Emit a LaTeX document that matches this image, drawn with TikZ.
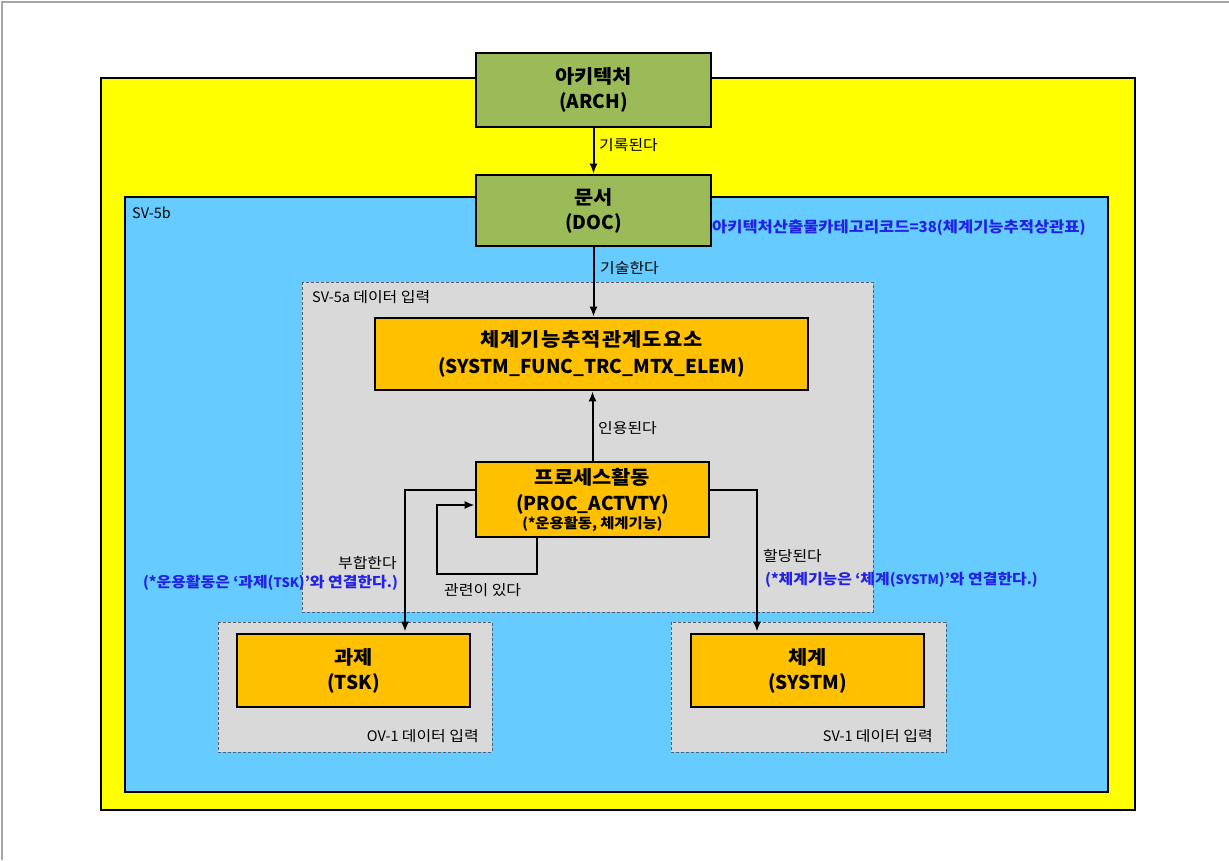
\documentclass[tikz,border=0pt]{standalone}
\usepackage{fontspec}
\setmainfont{Noto Sans CJK KR}
\newfontfamily\kr[FakeStretch=1.1]{Noto Sans CJK KR}
\usetikzlibrary{calc,arrows.meta}
\definecolor{ylw}{HTML}{FFFF00}
\definecolor{sky}{HTML}{66CCFF}
\definecolor{lgray}{HTML}{D9D9D9}
\definecolor{grn}{HTML}{9BBB59}
\definecolor{org}{HTML}{FFC000}
\definecolor{btxt}{HTML}{2222E6}
\definecolor{dashc}{HTML}{506070}
\tikzset{
  ent/.style={draw=black, line width=2.6pt, align=center, inner sep=0pt,
    font=\bfseries\fontsize{19}{25}\selectfont},
  grnbox/.style={ent, fill=grn},
  orgbox/.style={ent, fill=org},
  grp/.style={draw=dashc, fill=lgray, line width=0.9pt, dash pattern=on 3pt off 2pt},
  lbl/.style={inner sep=0pt, font=\fontsize{14.5}{16}\selectfont},
  blbl/.style={inner sep=0pt, text=btxt, font=\bfseries\fontsize{14.5}{16}\selectfont},
  arr/.style={draw=black, line width=2pt, -{Latex[length=10pt,width=8pt]}}
}
\begin{document}
\begin{tikzpicture}[x=1pt,y=-1pt]
\useasboundingbox (0,0) rectangle (1229,860);
\fill[white] (0,0) rectangle (1229,860);
\draw[gray!70, line width=1.2pt] (2,860) -- (2,2) -- (1229,2);
% containers
\draw[fill=ylw, line width=2.4pt] (101,78) rectangle (1135,810);
\draw[fill=sky, line width=2.4pt] (125,197) rectangle (1108,792);
\node[lbl, anchor=west] (sv5b) at (132,213) {SV-5b};
\path[grp] (302,282) rectangle (873,612);
\node[lbl, anchor=west] (sv5a) at (312,297) {SV-5a {\kr 데이터 입력}};
\path[grp] (218,622) rectangle (492,752);
\node[lbl, anchor=east] (ov1) at (479,736) {OV-1 {\kr 데이터 입력}};
\path[grp] (671,622) rectangle (946,752);
\node[lbl, anchor=east] (sv1) at (933,736) {SV-1 {\kr 데이터 입력}};
% nodes
\node[grnbox, minimum width=235pt, minimum height=74pt] (arch) at (593.5,90) {{\kr 아키텍처}\\(ARCH)};
\node[grnbox, minimum width=235pt, minimum height=71pt] (doc) at (593.5,210.5) {{\kr 문서}\\(DOC)};
\node[orgbox, minimum width=433pt, minimum height=72pt, font=\bfseries\fontsize{19}{27}\selectfont] (sft) at (591.5,354) {{\kr\addfontfeature{LetterSpace=6}체계기능추적관계도요소}\\(SYSTM\_FUNC\_TRC\_MTX\_ELEM)};
\node[orgbox, minimum width=233pt, minimum height=75pt] (proc) at (592.5,499.5) {{\kr 프로세스활동}\\[1pt](PROC\_ACTVTY)\\[-7pt]{\fontsize{14}{15}\selectfont(*{\kr 운용활동}, {\kr 체계기능})}};
\node[orgbox, minimum width=233pt, minimum height=73pt] (tsk) at (353.5,670.5) {{\kr 과제}\\(TSK)};
\node[orgbox, minimum width=233pt, minimum height=73pt] (sys) at (807.5,670.5) {{\kr 체계}\\(SYSTM)};
\node[blbl, anchor=west, font=\bfseries\fontsize{15}{16}\selectfont] (code) at (712,228) {{\kr 아키텍처산출물카테고리코드}=38({\kr 체계기능추적상관표})};
% connectors
\draw[arr] (arch.south) -- (doc.north);
\node[lbl, anchor=west] (l1) at (599,145) {\kr 기록된다};
\draw[arr] (doc.south) -- (doc.south |- sft.north);
\node[lbl, anchor=west] (l2) at (600,268) {\kr 기술한다};
\draw[arr] (proc.north) -- (proc.north |- sft.south);
\node[lbl, anchor=west] (l3) at (598,428) {\kr 인용된다};
\draw[arr] ($(proc.south)+(-55.5,0)$) -- ++(0,36) -- ++(-100,0) |- ($(proc.west)+(0,5.5)$);
\node[lbl, anchor=west] (l4) at (444,590) {\kr 관련이 있다};
\draw[arr] ($(proc.west)+(0,-9.5)$) -| ($(tsk.north)+(51.5,-1)$);
\node[lbl, anchor=east] (l5) at (397,563) {\kr 부합한다};
\node[blbl, anchor=east] (n5) at (398,583) {(*{\kr 운용활동은} ‘{\kr 과제}({\fontsize{13}{14}\selectfont TSK})’{\kr 와 연결한다}.)};
\draw[arr] ($(proc.east)+(0,-9.5)$) -| ($(sys.north)+(-50.5,-1)$);
\node[lbl, anchor=west] (l6) at (763,556) {\kr 할당된다};
\node[blbl, anchor=west] (n6) at (765,580) {(*{\kr 체계기능은} ‘{\kr 체계}({\fontsize{13}{14}\selectfont SYSTM})’{\kr 와 연결한다}.)};
\end{tikzpicture}
\end{document}
